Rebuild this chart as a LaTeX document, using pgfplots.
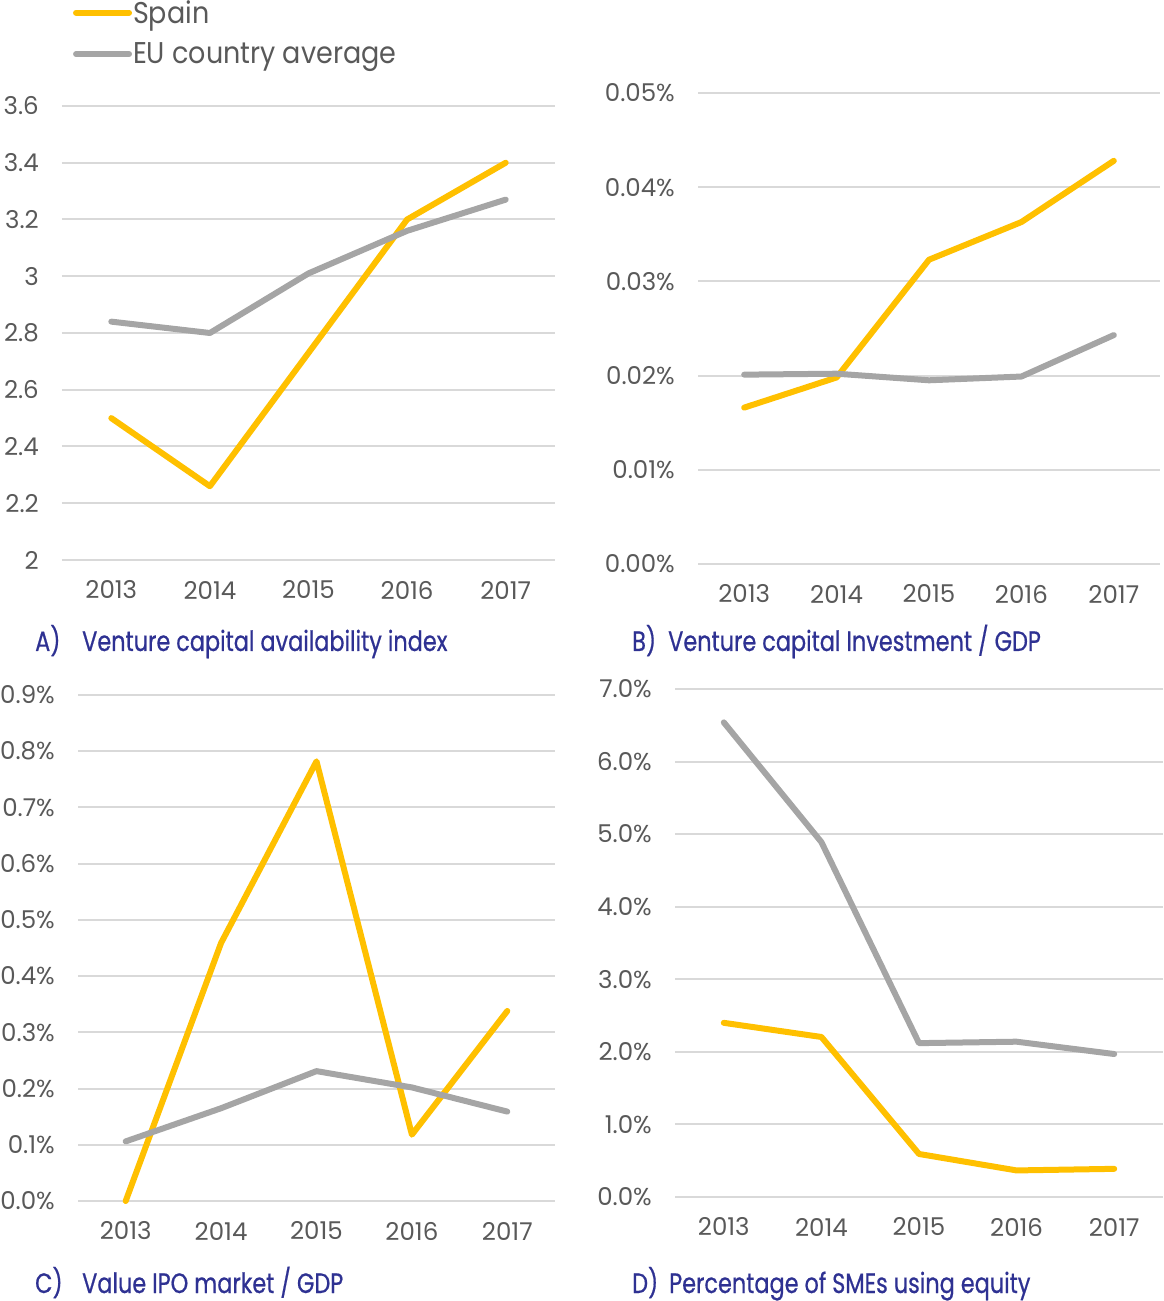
\documentclass[border=0pt]{standalone}
\usepackage{fontspec}
\setmainfont{Poppins}
\newfontfamily\capfont{Poppins}[FakeStretch=0.8, FakeBold=0.6]
\newfontfamily\legfont{Poppins}[FakeStretch=0.9]
\newfontfamily\tickfont{Poppins}
\usepackage{pgfplots}
\pgfplotsset{compat=1.18}

\definecolor{spainc}{HTML}{FFC000}
\definecolor{euc}{HTML}{A5A5A5}
\definecolor{gridc}{HTML}{D9D9D9}
\definecolor{tickc}{HTML}{595959}
\definecolor{capc}{HTML}{2E3192}

\pgfplotsset{
  panel/.style={
    scale only axis, anchor=south west, clip=false,
    xmin=-0.5, xmax=4.5, xtick={0,1,2,3,4},
    xticklabels={2013,2014,2015,2016,2017},
    axis line style={draw=none}, major tick length=0pt,
    scaled y ticks=false,
    ymajorgrids, grid style={gridc, line width=2pt},
    tick label style={font=\tickfont\fontsize{24.5}{29}\selectfont, text=tickc, inner sep=0pt},
    x tick label style={anchor=center, yshift=-30pt},
    y tick label style={anchor=east, xshift=-23pt},
  },
  spain/.style={spainc, line width=6pt, line cap=round, line join=round},
  eu/.style={euc, line width=6pt, line cap=round, line join=round},
}

\begin{document}
\begin{tikzpicture}[x=1pt, y=1pt]
\path[use as bounding box] (0,0) rectangle (1164,1301);

% A) venture capital availability index
\begin{axis}[panel, at={(62pt,741pt)}, width=493pt, height=454pt,
    ymin=2, ymax=3.6,
    ytick={2,2.2,2.4,2.6,2.8,3,3.2,3.4,3.6},
    yticklabels={2,2.2,2.4,2.6,2.8,3,3.2,3.4,3.6},
    legend style={at={(axis description cs:0.022,1.235)}, anchor=north west,
      draw=none, fill=none, inner sep=0pt, row sep=16pt,
      font=\legfont\fontsize{30}{34}\selectfont, text=tickc,
      nodes={inner sep=1pt}, cells={anchor=west}},
    legend image code/.code={\draw[#1] (0pt,0pt) -- (53pt,0pt);},
  ]
\addplot[spain] coordinates {(0,2.50) (1,2.26) (2,2.73) (3,3.20) (4,3.40)};
\addplot[eu] coordinates {(0,2.84) (1,2.80) (2,3.01) (3,3.16) (4,3.27)};
\legend{Spain, EU country average}
\end{axis}

% B) venture capital investment / GDP
\begin{axis}[panel, at={(698pt,737pt)}, width=462pt, height=471pt,
    ymin=0, ymax=0.05,
    ytick={0,0.01,0.02,0.03,0.04,0.05},
    yticklabels={0.00\%,0.01\%,0.02\%,0.03\%,0.04\%,0.05\%},
  ]
\addplot[spain] coordinates {(0,0.0166) (1,0.0198) (2,0.0323) (3,0.0363) (4,0.0428)};
\addplot[eu] coordinates {(0,0.0201) (1,0.0202) (2,0.0195) (3,0.0199) (4,0.0243)};
\end{axis}

% C) value IPO market / GDP
\begin{axis}[panel, at={(78pt,100pt)}, width=477pt, height=506pt,
    ymin=0, ymax=0.9,
    ytick={0,0.1,0.2,0.3,0.4,0.5,0.6,0.7,0.8,0.9},
    yticklabels={0.0\%,0.1\%,0.2\%,0.3\%,0.4\%,0.5\%,0.6\%,0.7\%,0.8\%,0.9\%},
  ]
\addplot[spain] coordinates {(0,0) (1,0.459) (2,0.782) (3,0.118) (4,0.338)};
\addplot[eu] coordinates {(0,0.106) (1,0.165) (2,0.231) (3,0.202) (4,0.159)};
\end{axis}

% D) percentage of SMEs using equity
\begin{axis}[panel, at={(675pt,104pt)}, width=488pt, height=508pt,
    ymin=0, ymax=7,
    ytick={0,1,2,3,4,5,6,7},
    yticklabels={0.0\%,1.0\%,2.0\%,3.0\%,4.0\%,5.0\%,6.0\%,7.0\%},
  ]
\addplot[spain] coordinates {(0,2.40) (1,2.205) (2,0.593) (3,0.366) (4,0.388)};
\addplot[eu] coordinates {(0,6.54) (1,4.89) (2,2.12) (3,2.14) (4,1.97)};
\end{axis}

% panel captions
\begin{scope}[every node/.style={anchor=base west, inner sep=0pt, text=capc,
    font=\capfont\fontsize{28}{32}\selectfont}]
\node at (35,650) {A)};
\node at (82,650) {Venture capital availability index};
\node at (632,650) {B)};
\node at (668,650) {Venture capital Investment / GDP};
\node at (35,8) {C)};
\node at (82,8) {Value IPO market / GDP};
\node at (632,8) {D)};
\node at (669,8) {Percentage of SMEs using equity};
\end{scope}
\end{tikzpicture}
\end{document}
